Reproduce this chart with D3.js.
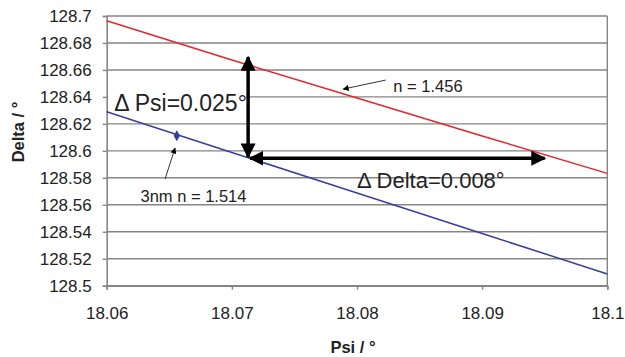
<!DOCTYPE html>
<html>
<head>
<meta charset="utf-8">
<script src="https://cdn.jsdelivr.net/npm/d3@7"></script>
<style>
  html, body { margin: 0; padding: 0; background: #fff; }
  svg text { font-family: "Liberation Sans", Arial, sans-serif; fill: #222; }
</style>
</head>
<body>
<svg id="chart" width="625" height="357"></svg>
<script>
// ---- data ----
const psiValues = [18.06, 18.07, 18.08, 18.09, 18.10];
const deltaN1456 = [128.6965, 128.6674, 128.6392, 128.6110, 128.5833];
const deltaN1514 = [128.6290, 128.5988, 128.5688, 128.5387, 128.5087];
const markerPsi = [18.0656];
const markerDelta = [128.6112];
const xTicks = [18.06, 18.07, 18.08, 18.09, 18.1];
const yTicks = [128.5, 128.52, 128.54, 128.56, 128.58, 128.6, 128.62, 128.64, 128.66, 128.68, 128.7];
// annotation arrows (data coordinates)
const vArrow = { psi: 18.0713, from: 128.5955, to: 128.6695 };
const hArrow = { delta: 128.5945, from: 18.07145, to: 18.0950 };
const annoTexts = [
  { text: "Δ Psi=0.025°", psi: 18.0606, delta: 128.6292, size: 23, bg: true },
  { text: "Δ Delta=0.008°", psi: 18.0800, delta: 128.5725, size: 22, bg: false },
  { text: "n = 1.456", psi: 18.0829, delta: 128.6436, size: 16.5, bg: false },
  { text: "3nm n = 1.514", psi: 18.0627, delta: 128.5622, size: 16.5, bg: false }
];
const pointers = [
  { x1: 18.0823, y1: 128.6525, x2: 18.0789, y2: 128.6458 },
  { x1: 18.06466, y1: 128.5790, x2: 18.06546, y2: 128.6021 }
];

(function () {
// ---- layout ----
const svg = d3.select("#chart");
const pL = 106.7, pR = 607.3, pT = 16, pB = 285.7;
const x = d3.scaleLinear().domain([18.06, 18.1]).range([pL, pR]);
const y = d3.scaleLinear().domain([128.5, 128.7]).range([pB, pT]);
const gridColor = "#858585";
const fmt = d => String(+d.toFixed(2));

// gridlines
svg.append("g").selectAll("line").data(yTicks).join("line")
  .attr("x1", pL).attr("x2", pR)
  .attr("y1", d => y(d)).attr("y2", d => y(d))
  .attr("stroke", gridColor).attr("stroke-width", 1.4);

// right border
svg.append("line").attr("x1", pR).attr("x2", pR).attr("y1", pT).attr("y2", pB)
  .attr("stroke", gridColor).attr("stroke-width", 1.4);

// y axis
const yAxis = d3.axisLeft(y).tickValues(yTicks).tickFormat(fmt).tickSize(4).tickPadding(11);
const gy = svg.append("g").attr("transform", `translate(${pL},0)`).call(yAxis);
gy.select(".domain").attr("stroke", gridColor).attr("stroke-width", 1.6);
gy.selectAll(".tick line").attr("stroke", gridColor).attr("stroke-width", 1.4);
gy.selectAll(".tick text").attr("font-size", 17).attr("fill", "#222")
  .attr("font-family", "Liberation Sans, Arial, sans-serif");

// x axis
const xAxis = d3.axisBottom(x).tickValues(xTicks).tickFormat(fmt).tickSize(4).tickPadding(17);
const gx = svg.append("g").attr("transform", `translate(0,${pB})`).call(xAxis);
gx.select(".domain").attr("stroke", gridColor).attr("stroke-width", 1.6);
gx.selectAll(".tick line").attr("stroke", gridColor).attr("stroke-width", 1.4);
gx.selectAll(".tick text").attr("font-size", 17).attr("fill", "#222")
  .attr("font-family", "Liberation Sans, Arial, sans-serif");

// axis titles
svg.append("text").attr("x", (pL + pR) / 2 - 4).attr("y", 353)
  .attr("text-anchor", "middle").attr("font-weight", "bold").attr("font-size", 16.5)
  .text("Psi / °");
svg.append("text").attr("transform", "translate(24,132) rotate(-90)")
  .attr("text-anchor", "middle").attr("font-weight", "bold").attr("font-size", 16.5)
  .text("Delta / °");

// series
const line = d3.line().x(d => x(d[0])).y(d => y(d[1]));
svg.append("path").datum(d3.zip(psiValues, deltaN1456)).attr("d", line)
  .attr("fill", "none").attr("stroke", "#e3262b").attr("stroke-width", 1.5);
svg.append("path").datum(d3.zip(psiValues, deltaN1514)).attr("d", line)
  .attr("fill", "none").attr("stroke", "#3a3d9c").attr("stroke-width", 1.5);
svg.append("g").selectAll("path").data(d3.zip(markerPsi, markerDelta)).join("path")
  .attr("d", d3.symbol(d3.symbolDiamond, 36))
  .attr("transform", d => `translate(${x(d[0])},${y(d[1])})`)
  .attr("fill", "#3a3d9c");

// annotation text
annoTexts.forEach(a => {
  const tx = x(a.psi), ty = y(a.delta);
  if (a.bg) {
    svg.append("rect").attr("x", tx - 6).attr("y", ty - a.size - 2)
      .attr("width", 138).attr("height", a.size + 1).attr("fill", "#fff");
  }
  svg.append("text").attr("x", tx).attr("y", ty)
    .attr("font-size", a.size).attr("fill", "#1a1a1a").text(a.text);
});

// defs for markers
const defs = svg.append("defs");
defs.append("marker").attr("id", "bigHead").attr("viewBox", "0 0 10 10")
  .attr("refX", 9).attr("refY", 5).attr("markerUnits", "userSpaceOnUse")
  .attr("markerWidth", 15).attr("markerHeight", 15).attr("orient", "auto")
  .append("path").attr("d", "M0,0 L10,5 L0,10 Z").attr("fill", "#000");
defs.append("marker").attr("id", "bigHeadRev").attr("viewBox", "0 0 10 10")
  .attr("refX", 1).attr("refY", 5).attr("markerUnits", "userSpaceOnUse")
  .attr("markerWidth", 15).attr("markerHeight", 15).attr("orient", "auto")
  .append("path").attr("d", "M10,0 L0,5 L10,10 Z").attr("fill", "#000");
defs.append("marker").attr("id", "smallHead").attr("viewBox", "0 0 10 10")
  .attr("refX", 9).attr("refY", 5).attr("markerUnits", "userSpaceOnUse")
  .attr("markerWidth", 7).attr("markerHeight", 6).attr("orient", "auto")
  .append("path").attr("d", "M0,0 L10,5 L0,10 Z").attr("fill", "#000");

// pointer lines
svg.append("g").selectAll("line").data(pointers).join("line")
  .attr("x1", d => x(d.x1)).attr("y1", d => y(d.y1))
  .attr("x2", d => x(d.x2)).attr("y2", d => y(d.y2))
  .attr("stroke", "#333").attr("stroke-width", 1)
  .attr("marker-end", "url(#smallHead)");

// big arrows
svg.append("line").attr("x1", x(vArrow.psi)).attr("x2", x(vArrow.psi))
  .attr("y1", y(vArrow.from)).attr("y2", y(vArrow.to))
  .attr("stroke", "#000").attr("stroke-width", 3.5)
  .attr("marker-start", "url(#bigHeadRev)").attr("marker-end", "url(#bigHead)");
svg.append("line").attr("x1", x(hArrow.from)).attr("x2", x(hArrow.to))
  .attr("y1", y(hArrow.delta)).attr("y2", y(hArrow.delta))
  .attr("stroke", "#000").attr("stroke-width", 3.5)
  .attr("marker-start", "url(#bigHeadRev)").attr("marker-end", "url(#bigHead)");
})();
</script>
</body>
</html>
